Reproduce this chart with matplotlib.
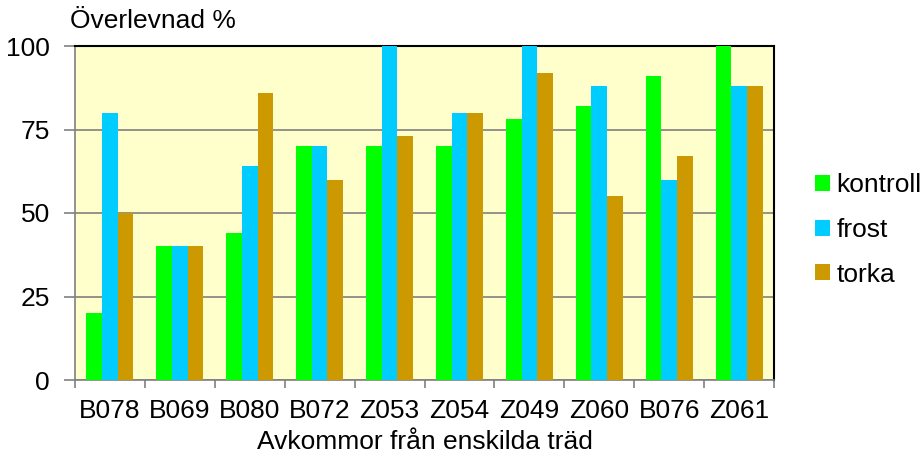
import matplotlib
matplotlib.use("Agg")
import matplotlib.pyplot as plt
import numpy as np

categories = ["B078", "B069", "B080", "B072", "Z053", "Z054", "Z049", "Z060", "B076", "Z061"]
kontroll = [20, 40, 44, 70, 70, 70, 78, 82, 91, 100]
frost = [80, 40, 64, 70, 100, 80, 100, 88, 60, 88]
torka = [50, 40, 86, 60, 73, 80, 92, 55, 67, 88]
series_names = ["kontroll", "frost", "torka"]
colors = ["#00FF00", "#00CCFF", "#CC9900"]
yticks = [0, 25, 50, 75, 100]

plt.rcParams['font.family'] = ['Liberation Sans', 'DejaVu Sans']

fig = plt.figure(figsize=(9.23, 4.59), dpi=100)
ax = fig.add_axes([75/923, 1-380/459, (774-75)/923, (380-46)/459])
ax.set_facecolor("#FFFFCC")

x = np.arange(len(categories))
bw = 0.224
for i, (vals, name, c) in enumerate(zip([kontroll, frost, torka], series_names, colors)):
    ax.bar(x + (i-1)*bw, vals, width=bw, color=c, label=name, zorder=3)

ax.set_xlim(-0.5, len(categories)-0.5)
ax.set_ylim(0, 100)
ax.set_yticks(yticks)
ax.set_yticklabels([str(t) for t in yticks], fontsize=19)
ax.yaxis.grid(True, color="#808080", linewidth=1.2, zorder=1)
ax.set_xticks(x)
ax.set_xticklabels(categories, fontsize=19)
ax.tick_params(axis='x', length=0, pad=14)
ax.set_xticks(np.arange(-0.5, len(categories)), minor=True)
ax.tick_params(axis='x', which='minor', length=6, width=1.2, color="#808080", direction='out')
ax.tick_params(axis='y', length=8, width=1.2, color="#808080", direction='out', pad=10)

for s in ['left', 'bottom']:
    ax.spines[s].set_color("#808080")
    ax.spines[s].set_linewidth(1.2)
for s in ['top', 'right']:
    ax.spines[s].set_color("black")
    ax.spines[s].set_linewidth(1.5)

ax.set_xlabel("Avkommor från enskilda träd", fontsize=19, labelpad=5)
fig.text(70/923, 1-21/459, "Överlevnad %", fontsize=19, ha='left', va='center')

leg = ax.legend(loc='center left', bbox_to_anchor=((815-75)/699, 1-(230-46)/334), frameon=False, fontsize=19,
                handlelength=0.57, handleheight=0.57, handletextpad=0.25, labelspacing=0.78, borderpad=0,
                borderaxespad=0)

fig.savefig("out.png", dpi=100)
